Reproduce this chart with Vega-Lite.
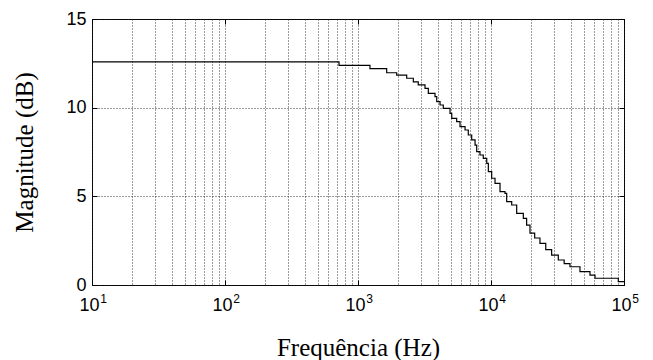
{
  "$schema": "https://vega.github.io/schema/vega-lite/v6.json",
  "autosize": "none",
  "width": 532,
  "height": 266,
  "padding": {"left": 92, "top": 19, "right": 29, "bottom": 75},
  "background": "white",
  "config": {
    "view": {"stroke": "#000", "strokeWidth": 1},
    "axis": {"domain": false, "ticks": false, "gridColor": "#222", "gridDash": [1, 2], "gridWidth": 1, "gridOpacity": 0.9, "labelFont": "Liberation Sans", "labelFontSize": 18, "labelColor": "#000", "titleFont": "Liberation Serif", "titleFontSize": 25, "titleFontWeight": "normal", "titleColor": "#000", "tickColor": "#000"}
  },
  "data": {
    "values": [
      {"f": 10, "db": 12.58},
      {"f": 720, "db": 12.39},
      {"f": 1230, "db": 12.2},
      {"f": 1643, "db": 11.97},
      {"f": 1954, "db": 11.84},
      {"f": 2323, "db": 11.66},
      {"f": 2606, "db": 11.46},
      {"f": 2838, "db": 11.28},
      {"f": 3190, "db": 11.09},
      {"f": 3379, "db": 10.81},
      {"f": 3793, "db": 10.62},
      {"f": 3908, "db": 10.34},
      {"f": 4138, "db": 10.15},
      {"f": 4377, "db": 9.96},
      {"f": 4920, "db": 9.68},
      {"f": 5070, "db": 9.4},
      {"f": 5521, "db": 9.21},
      {"f": 5848, "db": 8.93},
      {"f": 6380, "db": 8.74},
      {"f": 6748, "db": 8.46},
      {"f": 7158, "db": 8.18},
      {"f": 7586, "db": 7.89},
      {"f": 7805, "db": 7.52},
      {"f": 8262, "db": 7.33},
      {"f": 8750, "db": 7.14},
      {"f": 9290, "db": 6.86},
      {"f": 9550, "db": 6.39},
      {"f": 10120, "db": 6.02},
      {"f": 10720, "db": 5.73},
      {"f": 11690, "db": 5.26},
      {"f": 12740, "db": 5.17},
      {"f": 13120, "db": 4.7},
      {"f": 14310, "db": 4.51},
      {"f": 15600, "db": 4.04},
      {"f": 17500, "db": 3.76},
      {"f": 18530, "db": 3.38},
      {"f": 19640, "db": 2.92},
      {"f": 21300, "db": 2.65},
      {"f": 23340, "db": 2.35},
      {"f": 25800, "db": 2.0},
      {"f": 28570, "db": 1.69},
      {"f": 32060, "db": 1.41},
      {"f": 35500, "db": 1.2},
      {"f": 39260, "db": 1.03},
      {"f": 46670, "db": 0.75},
      {"f": 55480, "db": 0.56},
      {"f": 60530, "db": 0.38},
      {"f": 90600, "db": 0.19},
      {"f": 100000, "db": 0.19}
    ]
  },
  "resolve": {"axis": {"x": "independent", "y": "independent"}},
  "layer": [
    {
      "mark": {"type": "line", "interpolate": "step-after", "color": "#000", "strokeWidth": 1.2, "clip": true},
      "encoding": {
        "x": {
          "field": "f", "type": "quantitative",
          "scale": {"type": "log", "domain": [10, 100000], "nice": false},
          "axis": {
            "orient": "bottom",
            "title": "Frequência (Hz)",
            "titleX": 266, "titleY": 70, "titleAlign": "center", "titleBaseline": "alphabetic",
            "values": [10, 20, 30, 40, 50, 60, 70, 80, 90, 100, 200, 300, 400, 500, 600, 700, 800, 900, 1000, 2000, 3000, 4000, 5000, 6000, 7000, 8000, 9000, 10000, 20000, 30000, 40000, 50000, 60000, 70000, 80000, 90000, 100000],
            "labelExpr": "(datum.value == 10 || datum.value == 100 || datum.value == 1000 || datum.value == 10000 || datum.value == 100000) ? '10' : ''",
            "labelFlush": false,
            "labelBaseline": "alphabetic",
            "labelPadding": 25,
            "labelOffset": -3,
            "labelOverlap": false
          }
        },
        "y": {
          "field": "db", "type": "quantitative",
          "scale": {"domain": [0, 15], "nice": false},
          "axis": {"orient": "left", "title": "Magnitude (dB)", "titleX": -60, "titleY": 133, "titleAngle": 270, "titleAlign": "center", "titleBaseline": "alphabetic", "values": [0, 5, 10, 15], "labelPadding": 6}
        }
      }
    },
    {
      "mark": {"type": "line", "interpolate": "step-after", "opacity": 0},
      "encoding": {
        "x": {
          "field": "f", "type": "quantitative",
          "scale": {"type": "log", "domain": [10, 100000], "nice": false},
          "axis": {
            "orient": "bottom",
            "title": null,
            "grid": false,
            "ticks": true,
            "tickSize": -5,
            "values": [10, 100, 1000, 10000, 100000],
            "labelExpr": "datum.value == 10 ? '1' : datum.value == 100 ? '2' : datum.value == 1000 ? '3' : datum.value == 10000 ? '4' : '5'",
            "labelFontSize": 12,
            "labelFlush": false,
            "labelBaseline": "alphabetic",
            "labelPadding": 22,
            "labelOffset": 11,
            "labelOverlap": false
          }
        },
        "y": {
          "field": "db", "type": "quantitative",
          "scale": {"domain": [0, 15], "nice": false},
          "axis": {"orient": "right", "title": null, "grid": false, "labels": false, "ticks": true, "tickSize": -5, "values": [0, 5, 10, 15]}
        }
      }
    },
    {
      "mark": {"type": "line", "interpolate": "step-after", "opacity": 0},
      "encoding": {
        "x": {
          "field": "f", "type": "quantitative",
          "scale": {"type": "log", "domain": [10, 100000], "nice": false},
          "axis": {"orient": "top", "title": null, "grid": false, "labels": false, "ticks": true, "tickSize": -5, "values": [10, 100, 1000, 10000, 100000]}
        },
        "y": {
          "field": "db", "type": "quantitative",
          "scale": {"domain": [0, 15], "nice": false},
          "axis": {"orient": "left", "title": null, "grid": false, "labels": false, "ticks": true, "tickSize": -5, "values": [0, 5, 10, 15]}
        }
      }
    }
  ]
}
